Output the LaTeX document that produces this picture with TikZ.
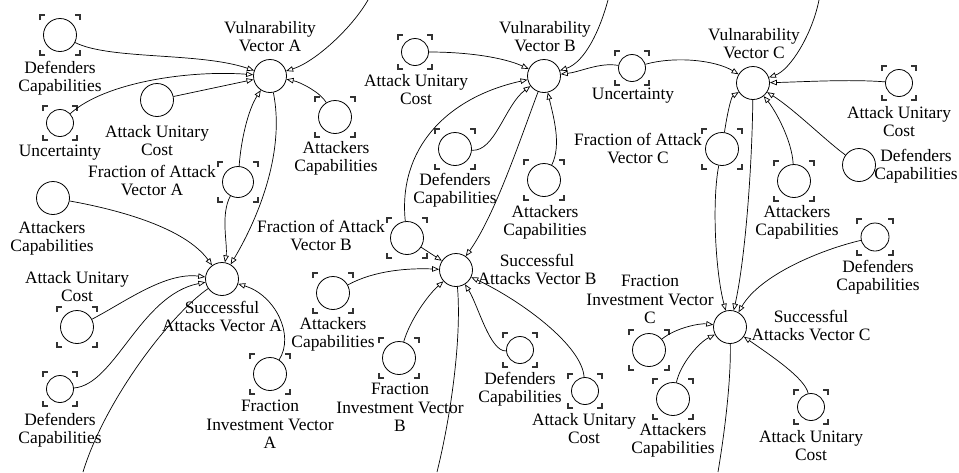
\documentclass[tikz,border=0pt]{standalone}
\usepackage{fontspec}
\setmainfont{Liberation Serif}
\usetikzlibrary{arrows.meta}
\begin{document}
\begin{tikzpicture}[x=1pt,y=-1pt,
  var/.style={circle, draw, line width=0.8pt, inner sep=0pt, minimum size=33pt},
  smallvar/.style={var, minimum size=27pt},
  lbl/.style={font=\fontsize{17.4}{18.5}\selectfont, align=center, inner sep=0pt, anchor=north},
  link/.style={line width=0.7pt, -{Triangle[open, length=7pt, width=5.5pt, line width=0.7pt]}},
  outlink/.style={line width=0.7pt},
  pics/shadow/.style={code={
    \draw[line width=1.1pt, black!80]
      (-#1,-#1+5) -- (-#1,-#1) -- (-#1+5,-#1)
      (#1-5,-#1) -- (#1,-#1) -- (#1,-#1+5)
      (#1,#1-5) -- (#1,#1) -- (#1-5,#1)
      (-#1+5,#1) -- (-#1,#1) -- (-#1,#1-5);
  }},
]
\fill[white] (0,0) rectangle (959,472);
\useasboundingbox (0,0) rectangle (959,472);

% ---------------- Vector A ----------------
\node[var] (dcA1) at (60,35) {};      \pic at (dcA1) {shadow=20};
\node[smallvar] (unA) at (60,123) {}; \pic at (unA) {shadow=17};
\node[var] (aucA1) at (157,100) {};
\node[var] (vulA) at (270,76) {};
\node[var, minimum size=31pt] (foaA) at (238,182) {}; \pic at (foaA) {shadow=20};
\node[var] (atA1) at (53,198) {};
\node[var] (atA2) at (335,117) {};    \pic at (atA2) {shadow=20};
\node[var] (sucA) at (222,279) {};
\node[var] (aucA2) at (77,327) {};    \pic at (aucA2) {shadow=20};
\node[smallvar] (dcA2) at (60,389) {}; \pic at (dcA2) {shadow=17};
\node[var] (fivA) at (270,374) {};    \pic at (fivA) {shadow=20};

\node[lbl] at (60,61)   {Defenders\\Capabilities};
\node[lbl] at (60,145)  {Uncertainty};
\node[lbl] at (157,125) {Attack Unitary\\Cost};
\node[lbl] at (270,21)  {Vulnarability\\Vector A};
\node[lbl] at (152,165) {Fraction of Attack\\Vector A};
\node[lbl] at (52,221)  {Attackers\\Capabilities};
\node[lbl] at (336,141) {Attackers\\Capabilities};
\node[lbl] at (222,301) {Successful\\Attacks Vector A};
\node[lbl] at (77,271)  {Attack Unitary\\Cost};
\node[lbl] at (60,413)  {Defenders\\Capabilities};
\node[lbl] at (270,400) {Fraction\\Investment Vector\\A};

% ---------------- Vector B ----------------
\node[smallvar] (aucB1) at (415,52) {}; \pic at (aucB1) {shadow=17};
\node[var] (vulB) at (544,76) {};
\node[smallvar] (unB) at (632,68) {};   \pic at (unB) {shadow=17};
\node[var] (dcB1) at (455,149) {};      \pic at (dcB1) {shadow=20};
\node[var] (atB1) at (544,180) {};      \pic at (atB1) {shadow=20};
\node[var] (foaB) at (407,238) {};      \pic at (foaB) {shadow=20};
\node[var] (sucB) at (456,270) {};
\node[var] (atB2) at (333,293) {};      \pic at (atB2) {shadow=20};
\node[var] (fivB) at (399,358) {};      \pic at (fivB) {shadow=20};
\node[smallvar] (dcB2) at (520,350) {};  \pic at (dcB2) {shadow=17};
\node[smallvar] (aucB2) at (585,391) {}; \pic at (aucB2) {shadow=17};

\node[lbl] at (416,74)  {Attack Unitary\\Cost};
\node[lbl] at (545,21)  {Vulnarability\\Vector B};
\node[lbl] at (633,88)  {Uncertainty};
\node[lbl] at (455,173) {Defenders\\Capabilities};
\node[lbl] at (545,205) {Attackers\\Capabilities};
\node[lbl] at (321,220) {Fraction of Attack\\Vector B};
\node[lbl] at (537,254) {Successful\\Attacks Vector B};
\node[lbl] at (333,317) {Attackers\\Capabilities};
\node[lbl] at (400,383) {Fraction\\Investment Vector\\B};
\node[lbl] at (520,372) {Defenders\\Capabilities};
\node[lbl] at (584,413) {Attack Unitary\\Cost};

% ---------------- Vector C ----------------
\node[var] (vulC) at (753,83) {};
\node[smallvar] (aucC1) at (899,83) {}; \pic at (aucC1) {shadow=17};
\node[var] (foaC) at (722,149) {};      \pic at (foaC) {shadow=20};
\node[var] (atC1) at (794,181) {};      \pic at (atC1) {shadow=20};
\node[var] (dcC1) at (859,165) {};
\node[var, minimum size=28pt] (dcC2) at (875,237) {}; \pic at (dcC2) {shadow=18};
\node[var] (sucC) at (730,327) {};
\node[var] (fivC) at (649,350) {};      \pic at (fivC) {shadow=20};
\node[var] (atC2) at (673,399) {};      \pic at (atC2) {shadow=20};
\node[smallvar] (aucC2) at (811,407) {}; \pic at (aucC2) {shadow=17};

\node[lbl] at (754,28)  {Vulnarability\\Vector C};
\node[lbl] at (899,106) {Attack Unitary\\Cost};
\node[lbl] at (638,133) {Fraction of Attack\\Vector C};
\node[lbl] at (797,205) {Attackers\\Capabilities};
\node[lbl] at (916,149) {Defenders\\Capabilities};
\node[lbl] at (878,260) {Defenders\\Capabilities};
\node[lbl] at (811,310) {Successful\\Attacks Vector C};
\node[lbl] at (650,275) {Fraction\\Investment Vector\\C};
\node[lbl] at (673,423) {Attackers\\Capabilities};
\node[lbl] at (811,430) {Attack Unitary\\Cost};

% free ends of links running off the sheet
\coordinate (topA) at (368,0);
\coordinate (topB) at (608,0);
\coordinate (topC) at (819,0);
\coordinate (botA) at (83,472);
\coordinate (botB) at (437,472);
\coordinate (botC) at (718,472);

% ---------------- links, Vector A ----------------
\draw[link] (dcA1) .. controls (110,60) and (200,52) .. (vulA);
\draw[link] (unA) .. controls (105,82) and (190,70) .. (vulA);
\draw[link] (aucA1) -- (vulA);
\draw[link] (foaA) .. controls (241,140) and (248,110) .. (vulA);
\draw[link] (topA) .. controls (352,28) and (315,62) .. (vulA);
\draw[link] (atA2) .. controls (320,92) and (300,82) .. (vulA);
\draw[link] (vulA) .. controls (285,150) and (260,215) .. (sucA);
\draw[link] (foaA) .. controls (220,215) and (228,245) .. (sucA);
\draw[link] (atA1) .. controls (120,210) and (185,228) .. (sucA);
\draw[link] (aucA2) .. controls (125,302) and (165,272) .. (sucA);
\draw[link] (dcA2) .. controls (115,385) and (140,295) .. (sucA);
\draw[link] (fivA) .. controls (295,335) and (275,295) .. (sucA);
\draw[outlink] (sucA) .. controls (170,315) and (105,400) .. (botA);

% ---------------- links, Vector B ----------------
\draw[link] (aucB1) .. controls (470,52) and (505,58) .. (vulB);
\draw[link] (topB) .. controls (600,30) and (585,62) .. (vulB);
\draw[link] (unB) .. controls (600,62) and (580,72) .. (vulB);
\draw[link] (foaB) .. controls (398,150) and (445,98) .. (vulB);
\draw[link] (dcB1) .. controls (495,152) and (505,105) .. (vulB);
\draw[link] (atB1) .. controls (562,145) and (553,115) .. (vulB);
\draw[link] (vulB) .. controls (520,140) and (495,215) .. (sucB);
\draw[link] (foaB) -- (sucB);
\draw[link] (atB2) .. controls (375,270) and (410,268) .. (sucB);
\draw[link] (fivB) .. controls (410,320) and (428,295) .. (sucB);
\draw[link] (dcB2) .. controls (490,352) and (478,305) .. (sucB);
\draw[link] (aucB2) .. controls (582,345) and (520,300) .. (sucB);
\draw[outlink] (sucB) .. controls (462,340) and (450,420) .. (botB);

% ---------------- links, Vector C ----------------
\draw[link] (unB) .. controls (675,56) and (715,60) .. (vulC);
\draw[link] (topC) .. controls (812,35) and (790,70) .. (vulC);
\draw[link] (aucC1) .. controls (850,79) and (800,82) .. (vulC);
\draw[link] (foaC) .. controls (727,115) and (731,97) .. (vulC);
\draw[link] (atC1) .. controls (792,140) and (775,110) .. (vulC);
\draw[link] (dcC1) .. controls (825,140) and (795,110) .. (vulC);
\draw[link] (vulC) .. controls (752,170) and (745,260) .. (sucC);
\draw[link] (foaC) .. controls (712,200) and (715,270) .. (sucC);
\draw[link] (dcC2) .. controls (820,250) and (760,275) .. (sucC);
\draw[link] (fivC) .. controls (675,328) and (700,323) .. (sucC);
\draw[link] (atC2) .. controls (680,365) and (698,343) .. (sucC);
\draw[link] (aucC2) .. controls (805,378) and (770,355) .. (sucC);
\draw[outlink] (sucC) .. controls (731,380) and (725,430) .. (botC);
\end{tikzpicture}
\end{document}
